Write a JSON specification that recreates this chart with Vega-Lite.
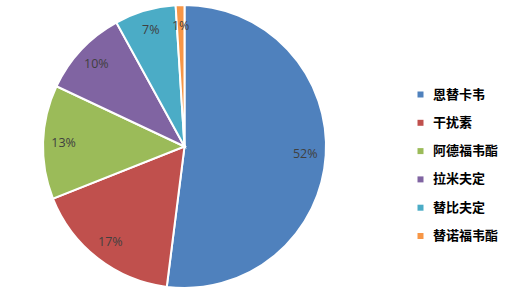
{
  "$schema": "https://vega.github.io/schema/vega-lite/v6.json",
  "autosize": "none",
  "width": 369,
  "height": 293,
  "padding": {"left": 0, "top": 0, "right": 138, "bottom": 0},
  "background": "white",
  "data": {"values": [
    {"name": "恩替卡韦", "value": 52, "label": "52%", "idx": 1},
    {"name": "干扰素", "value": 17, "label": "17%", "idx": 2},
    {"name": "阿德福韦酯", "value": 13, "label": "13%", "idx": 3},
    {"name": "拉米夫定", "value": 10, "label": "10%", "idx": 4},
    {"name": "替比夫定", "value": 7, "label": "7%", "idx": 5},
    {"name": "替诺福韦酯", "value": 1, "label": "1%", "idx": 6}
  ]},
  "encoding": {
    "theta": {"field": "value", "type": "quantitative", "stack": true},
    "order": {"field": "idx", "type": "quantitative"}
  },
  "layer": [
    {
      "mark": {"type": "arc", "outerRadius": 141.5, "stroke": "white", "strokeWidth": 2},
      "encoding": {
        "color": {
          "field": "name", "type": "nominal",
          "scale": {
            "domain": ["恩替卡韦", "干扰素", "阿德福韦酯", "拉米夫定", "替比夫定", "替诺福韦酯"],
            "range": ["#4F81BD", "#C0504D", "#9BBB59", "#8064A2", "#4BACC6", "#F79646"]
          },
          "legend": {
            "title": null,
            "orient": "none",
            "legendX": 414,
            "legendY": 88,
            "symbolType": "square",
            "symbolSize": 36,
            "symbolStrokeWidth": 0,
            "labelFont": "Noto Sans CJK SC",
            "labelFontSize": 13,
            "labelFontWeight": "bold",
            "labelColor": "#000000",
            "labelOffset": 6,
            "rowPadding": 14.3
          }
        }
      }
    },
    {
      "mark": {"type": "text", "radius": 121, "font": "Open Sans", "fontSize": 12.5, "fill": "#404040"},
      "encoding": {
        "text": {"field": "label"}
      }
    }
  ]
}
